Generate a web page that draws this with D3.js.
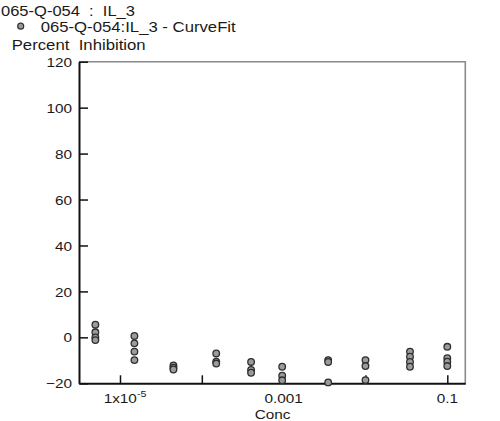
<!DOCTYPE html>
<html>
<head>
<meta charset="utf-8">
<script src="https://cdn.jsdelivr.net/npm/d3@7/dist/d3.min.js"></script>
<style>
  html, body { margin: 0; padding: 0; background: #fff; }
  svg { display: block; }
  text { font-family: "Liberation Sans", Arial, sans-serif; fill: #1a1a1a; white-space: pre; }
</style>
</head>
<body>
<svg id="chart" width="500" height="421"></svg>
<script>
// ---- data ----
const titleLine = "065-Q-054  :  IL_3";
const seriesName = "065-Q-054:IL_3 - CurveFit";
const yTitle = "Percent  Inhibition";
const xTitle = "Conc";
const concentrations = [5.0e-6, 1.5e-5, 4.5e-5, 1.5e-4, 4.0e-4, 9.6e-4, 3.5e-3, 1.0e-2, 3.5e-2, 0.1];
const inhibition = [
  [5.5, 2.2, 0.0, -1.2],
  [0.6, -2.6, -6.2, -9.9],
  [-12.2, -13.2, -14.0],
  [-7.0, -10.6, -11.4],
  [-10.7, -14.2, -15.4],
  [-12.8, -16.7, -18.7],
  [-9.9, -10.7, -19.6],
  [-9.9, -12.5, -18.6],
  [-6.2, -8.4, -10.7, -12.8],
  [-4.1, -9.1, -10.6, -12.5]
];
const yTicks = [-20, 0, 20, 40, 60, 80, 100, 120];
const xTicks = [1e-5, 1e-4, 1e-3, 1e-2, 1e-1];
const xTickLabels = [
  {v: 1e-5, base: "1x10", sup: "-5"},
  {v: 1e-3, base: "0.001", sup: null},
  {v: 1e-1, base: "0.1", sup: null}
];

// ---- layout ----
const svg = d3.select("#chart");
const L = 79, R = 465.3, T = 61.7, B = 383.3;
const SX = 1.18; // horizontal text stretch
const fs = 13;

const x = d3.scaleLog().domain([Math.pow(10, -5.501), Math.pow(10, -0.78)]).range([L, R]);
const y = d3.scaleLinear().domain([-20, 120]).range([B, T]);

function headerText(px, py, str, width) {
  return svg.append("text")
    .attr("x", px).attr("y", py)
    .attr("textLength", width).attr("lengthAdjust", "spacingAndGlyphs")
    .style("font-size", "14px")
    .text(str);
}

// header texts
headerText(1, 15.7, titleLine, 134);
svg.append("circle").attr("cx", 20.7).attr("cy", 26.2).attr("r", 3)
  .attr("fill", "#999").attr("stroke", "#333").attr("stroke-width", 1.2);
headerText(40.7, 32, seriesName, 195);
headerText(11.7, 50, yTitle, 134);

// frame top/right (gray)
svg.append("path")
  .attr("d", `M${L},${T}H${R}V${B}`)
  .attr("fill", "none").attr("stroke", "#8a8a8a").attr("stroke-width", 1.6);

// y axis
const yAxis = d3.axisLeft(y).tickValues(yTicks).tickSizeInner(-9).tickSizeOuter(0).tickPadding(0).tickFormat(d3.format("d"));
const gy = svg.append("g").attr("transform", `translate(${L},0)`).call(yAxis);
gy.select(".domain").attr("stroke", "#111").attr("stroke-width", 2);
gy.selectAll(".tick line").attr("stroke", "#111").attr("stroke-width", 1.5);
gy.selectAll(".tick text")
  .attr("x", null).attr("dy", null)
  .attr("transform", `translate(-7,4.6) scale(${SX},1)`)
  .style("font-size", fs + "px").style("font-family", "Liberation Sans, Arial, sans-serif")
  .attr("fill", "#1a1a1a");

// x axis
const xAxis = d3.axisBottom(x).tickValues(xTicks).tickSizeInner(-8).tickSizeOuter(0).tickFormat(() => "");
const gx = svg.append("g").attr("transform", `translate(0,${B})`).call(xAxis);
gx.select(".domain").attr("stroke", "#111").attr("stroke-width", 2);
gx.selectAll(".tick line").attr("stroke", "#111").attr("stroke-width", 1.5);
gx.selectAll(".tick text").remove();

// x tick labels
xTickLabels.forEach(lab => {
  const t = svg.append("text")
    .attr("transform", `translate(${x(lab.v) + (lab.sup ? 5 : 0)},402.8) scale(${SX},1)`)
    .attr("text-anchor", "middle")
    .style("font-size", fs + "px");
  t.append("tspan").text(lab.base);
  if (lab.sup) t.append("tspan").attr("dy", -6).style("font-size", "9px").text(lab.sup);
});

// x title
svg.append("text")
  .attr("transform", `translate(${(L + R) / 2 + 0.5},418.8) scale(${SX},1)`)
  .attr("text-anchor", "middle").style("font-size", fs + "px").text(xTitle);

// points
const pts = [];
concentrations.forEach((c, i) => inhibition[i].forEach(v => pts.push({c, v})));
svg.append("g").selectAll("circle").data(pts).join("circle")
  .attr("cx", d => x(d.c)).attr("cy", d => y(d.v)).attr("r", 3.3)
  .attr("fill", "#9b9b9b").attr("stroke", "#2e2e2e").attr("stroke-width", 1.3);
</script>
</body>
</html>
